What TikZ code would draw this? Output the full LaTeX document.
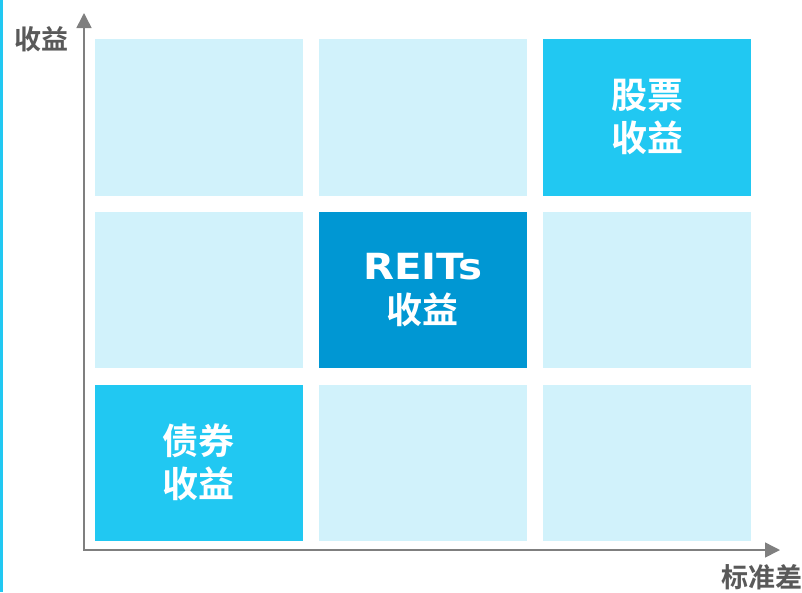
\documentclass[tikz,border=0pt]{standalone}
\usepackage{fontspec}
\setmainfont{DejaVu Sans}
\newfontfamily\wideb{DejaVu Sans}[FakeStretch=1.12]
\newfontfamily\cjk{Noto Sans CJK SC}[BoldFont={* Bold}]
\usetikzlibrary{arrows.meta}
\definecolor{lightc}{HTML}{D1F2FB}
\definecolor{brightc}{HTML}{21C8F2}
\definecolor{darkc}{HTML}{0097D3}
\definecolor{axisg}{HTML}{7F7F7F}
\definecolor{labelg}{HTML}{595959}
\begin{document}
\begin{tikzpicture}[x=1pt,y=-1pt,
  cell/.style={fill=lightc,draw=none,minimum width=208.5pt,minimum height=156.5pt,inner sep=0pt,anchor=north west,align=center,text=white,font=\bfseries\fontsize{36}{43}\selectfont},
  axisline/.style={draw=axisg,line width=1.5pt,-{Triangle[length=15pt,width=15pt]}},
  axlabel/.style={text=labelg,font=\cjk\bfseries\fontsize{27}{30}\selectfont,inner sep=0pt}]
\useasboundingbox (0,0) rectangle (802,592);
\fill[brightc] (0,0) rectangle (3,592);
% cells
\node[cell] (c11) at (94.3,39) {};
\node[cell] (c12) at (318.5,39) {};
\node[cell,fill=brightc] (c13) at (542.7,39) {\cjk 股票\\\cjk 收益};
\node[cell] (c21) at (94.3,211.7) {};
\node[cell,fill=darkc] (c22) at (318.5,211.7) {{\wideb\bfseries REITs}\\[1pt]\cjk 收益};
\node[cell] (c23) at (542.7,211.7) {};
\node[cell,fill=brightc] (c31) at (94.3,384.3) {\cjk 债券\\\cjk 收益};
\node[cell] (c32) at (318.5,384.3) {};
\node[cell] (c33) at (542.7,384.3) {};
% axes
\coordinate (o) at (84,550);
\coordinate (ytip) at (84,13);
\coordinate (xtip) at (780,550);
\draw[axisline] (o) -- (ytip);
\draw[axisline] ([xshift=-1pt]o) -- (xtip);
\node[axlabel] (ylab) at (41.5,39) {收益};
\node[axlabel] (xlab) at (761.5,577) {标准差};
\end{tikzpicture}
\end{document}
